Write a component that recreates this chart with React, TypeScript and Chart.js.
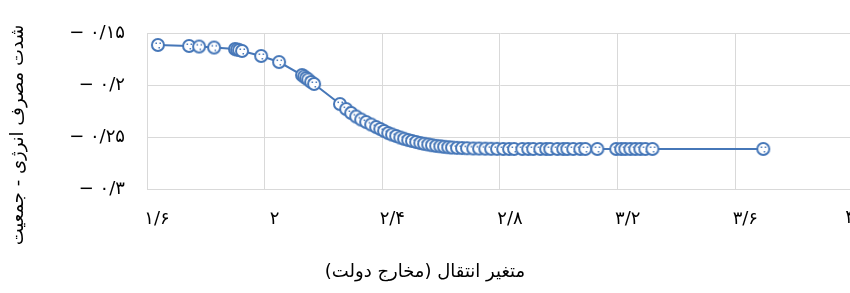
import React, { useEffect, useRef } from "react";
import { Chart, registerables } from "chart.js";

Chart.register(...registerables);

const xValues = [
  1.637, 1.743, 1.777, 1.828, 1.899, 1.906, 1.913, 1.923, 1.988, 2.049,
  2.127, 2.134, 2.141, 2.148, 2.158, 2.168, 2.256, 2.277, 2.294, 2.311,
  2.328, 2.345, 2.362, 2.379, 2.393, 2.406, 2.42, 2.433, 2.447, 2.461,
  2.474, 2.488, 2.501, 2.515, 2.529, 2.542, 2.556, 2.569, 2.583, 2.597,
  2.61, 2.624, 2.637, 2.654, 2.671, 2.688, 2.709, 2.729, 2.75, 2.77,
  2.79, 2.811, 2.831, 2.848, 2.876, 2.896, 2.913, 2.937, 2.957, 2.971,
  2.995, 3.015, 3.029, 3.049, 3.073, 3.09, 3.131, 3.195, 3.212, 3.226,
  3.243, 3.26, 3.277, 3.294, 3.318, 3.695,
];

const yValues = [
  -0.1615, -0.1625, -0.163, -0.164, -0.1654, -0.1659, -0.1663, -0.1673, -0.1721, -0.1779,
  -0.1904, -0.1918, -0.1933, -0.1947, -0.1971, -0.199, -0.2183, -0.2231, -0.2269, -0.2303,
  -0.2332, -0.2356, -0.238, -0.2404, -0.2423, -0.2442, -0.2462, -0.2476, -0.249, -0.2505,
  -0.2517, -0.2529, -0.2538, -0.2548, -0.2558, -0.2565, -0.2572, -0.2579, -0.2585, -0.2589,
  -0.2594, -0.2598, -0.2601, -0.2604, -0.2606, -0.2608, -0.261, -0.2611, -0.2612, -0.2613,
  -0.2614, -0.2615, -0.2615, -0.2615, -0.2615, -0.2615, -0.2615, -0.2615, -0.2615, -0.2615,
  -0.2615, -0.2615, -0.2615, -0.2615, -0.2615, -0.2615, -0.2615, -0.2615, -0.2615, -0.2615,
  -0.2615, -0.2615, -0.2615, -0.2615, -0.2615, -0.2615,
];

const xTickValues = [1.6, 2.0, 2.4, 2.8, 3.2, 3.6, 4.0];
const xTickLabels = ["۱/۶", "۲", "۲/۴", "۲/۸", "۳/۲", "۳/۶", "۴"];
const yTickValues = [-0.3, -0.25, -0.2, -0.15];
const yTickLabels = ["− ۰/۳", "− ۰/۲۵", "− ۰/۲", "− ۰/۱۵"];

const xTitle = "متغیر انتقال (مخارج دولت)";
const yTitle = "شدت مصرف انرژی - جمعیت";

const FONT = "'DejaVu Sans', sans-serif";
const FONT_SIZE = 18;
const BLUE = "#4677b8";
const GRID = "#d9d9d9";
const X_TICK_LEN = 18;
const X_TICK_PAD = 2;

function makeMarker(): HTMLCanvasElement {
  const c = document.createElement("canvas");
  c.width = 16;
  c.height = 16;
  const g = c.getContext("2d")!;
  g.beginPath();
  g.arc(8, 8, 6, 0, Math.PI * 2);
  g.fillStyle = "#fff";
  g.fill();
  g.lineWidth = 2;
  g.strokeStyle = BLUE;
  g.stroke();
  g.fillStyle = BLUE;
  g.fillRect(5.5, 5.5, 1.5, 1.5);
  g.fillRect(9.5, 5.5, 1.5, 1.5);
  g.fillRect(8.5, 10, 1.5, 1.5);
  return c;
}

const titlesPlugin = {
  id: "axisTitles",
  afterDraw(chart: any) {
    const ctx = chart.ctx;
    const xs = chart.scales.x;
    ctx.save();
    ctx.fillStyle = "#000";
    ctx.font = `${FONT_SIZE}px ${FONT}`;
    ctx.textAlign = "center";
    ctx.textBaseline = "top";
    const last = xTickValues.length - 1;
    ctx.fillText(
      xTickLabels[last],
      xs.getPixelForValue(xTickValues[last]) - 3,
      xs.top + X_TICK_LEN + X_TICK_PAD
    );
    ctx.textBaseline = "middle";
    ctx.fillText(xTitle, 425, 272);
    ctx.translate(18, 135);
    ctx.rotate(-Math.PI / 2);
    ctx.fillText(yTitle, 0, 0);
    ctx.restore();
  },
};

export default function App() {
  const ref = useRef<HTMLCanvasElement>(null);
  useEffect(() => {
    if (!ref.current) return;
    const marker = makeMarker();
    const chart = new Chart(ref.current, {
      type: "scatter",
      data: {
        datasets: [
          {
            data: xValues.map((x, i) => ({ x, y: yValues[i] })),
            showLine: true,
            borderColor: BLUE,
            borderWidth: 2,
            pointStyle: marker as any,
            pointRadius: 6,
            pointBorderWidth: 2,
            pointBackgroundColor: "#ffffff",
            pointBorderColor: BLUE,
          },
        ],
      },
      options: {
        animation: false,
        responsive: false,
        layout: { padding: { left: 0, top: 33, right: 17, bottom: 0 } },
        plugins: { legend: { display: false }, tooltip: { enabled: false } },
        scales: {
          x: {
            type: "linear",
            min: 1.6,
            max: 4.0,
            afterBuildTicks: (s: any) => {
              s.ticks = xTickValues.map((v) => ({ value: v }));
            },
            afterFit: (s: any) => {
              s.height = 104;
            },
            grid: {
              color: GRID,
              lineWidth: 1,
              drawTicks: true,
              tickLength: X_TICK_LEN,
              tickColor: "rgba(0,0,0,0)",
            },
            border: { color: GRID },
            ticks: {
              padding: X_TICK_PAD,
              labelOffset: 10,
              maxRotation: 0,
              autoSkip: false,
              color: "#000",
              font: { family: FONT, size: FONT_SIZE },
              callback: (_v: any, i: number) =>
                i === xTickLabels.length - 1 ? "" : xTickLabels[i],
            },
          },
          y: {
            type: "linear",
            min: -0.3,
            max: -0.15,
            afterBuildTicks: (s: any) => {
              s.ticks = yTickValues.map((v) => ({ value: v }));
            },
            afterFit: (s: any) => {
              s.width = 147;
            },
            grid: { color: GRID, lineWidth: 1, drawTicks: false },
            border: { color: GRID },
            ticks: {
              padding: 22,
              autoSkip: false,
              color: "#000",
              font: { family: FONT, size: FONT_SIZE },
              callback: (_v: any, i: number) => yTickLabels[i],
            },
          },
        },
      },
      plugins: [titlesPlugin],
    });
    return () => chart.destroy();
  }, []);
  return (
    <div
      style={{
        position: "absolute",
        left: 0,
        top: 0,
        width: 850,
        height: 293,
        overflow: "hidden",
        background: "#fff",
      }}
    >
      <canvas ref={ref} width={870} height={293} style={{ display: "block" }} />
    </div>
  );
}
